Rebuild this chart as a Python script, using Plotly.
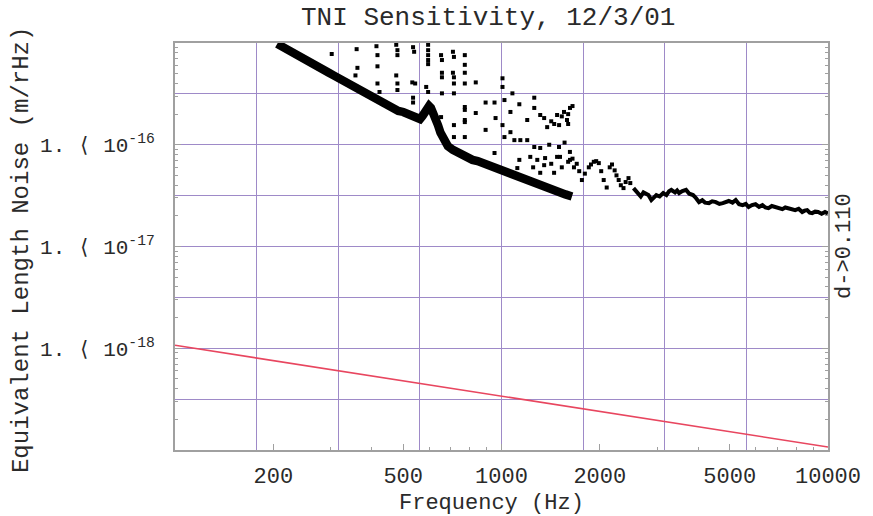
import plotly.graph_objects as go

# Main interferometer noise floor (dense band), Hz / m/rtHz
band_freq = [205.6, 215, 224, 232, 240, 248, 257, 266, 276, 286, 296, 306, 317, 328, 340,
             352, 365, 378, 391, 405, 420, 435, 450, 467, 483, 500, 518, 531, 544, 553,
             563, 573, 583, 592, 600, 608, 617, 628, 639, 650, 662, 673, 685, 710, 735,
             760, 788, 815, 845, 875, 907, 950, 993, 1035, 1080, 1125, 1175, 1230, 1287,
             1335, 1380, 1440, 1501, 1570, 1644]
band_noise = [9.8e-16, 9.1e-16, 8.5e-16, 8.0e-16, 7.6e-16, 7.0e-16, 6.65e-16, 6.2e-16,
              5.8e-16, 5.45e-16, 5.1e-16, 4.8e-16, 4.5e-16, 4.25e-16, 4.0e-16, 3.72e-16,
              3.5e-16, 3.28e-16, 3.1e-16, 2.9e-16, 2.75e-16, 2.55e-16, 2.4e-16, 2.3e-16,
              2.15e-16, 2.1e-16, 2.0e-16, 1.95e-16, 1.87e-16, 1.84e-16, 1.79e-16, 1.92e-16,
              2.1e-16, 2.3e-16, 2.4e-16, 2.3e-16, 2.1e-16, 1.8e-16, 1.56e-16, 1.32e-16,
              1.16e-16, 1.05e-16, 9.7e-17, 8.9e-17, 8.3e-17, 7.8e-17, 7.4e-17, 7.1e-17,
              6.9e-17, 6.6e-17, 6.3e-17, 5.9e-17, 5.6e-17, 5.3e-17, 5.0e-17, 4.75e-17,
              4.5e-17, 4.25e-17, 4.0e-17, 3.85e-17, 3.75e-17, 3.55e-17, 3.4e-17, 3.25e-17,
              3.1e-17]

# Second measurement: scattered points below ~2.5 kHz
scatter_freq = [302, 360, 362, 357, 414, 417, 417, 417, 423, 476, 480, 480, 476, 480, 480,
                536, 540, 533, 544, 536, 536, 596, 596, 596, 596, 596, 588, 596,
                653, 657, 657, 657, 657, 653, 710, 715, 710, 715, 715, 715, 715, 715,
                772, 772, 772, 772, 772, 772, 772, 772, 772,
                834, 834, 894, 894, 952, 959, 1007, 1007, 1021, 1007, 1080, 1065, 1134,
                1199, 1260, 1260, 1314, 1351, 1380, 1480, 1554, 1621, 1587, 1501,
                1530, 1600, 1650, 1420, 1450, 1600,
                1065, 1021, 1095, 1142, 1199, 1260, 1314, 1134, 1225, 1287, 1360, 1480,
                952, 1118, 1314, 1449, 1351, 1400, 1500, 1560, 1620, 1420, 1530, 1600,
                1650, 1250,
                1511, 1621, 1667, 1763, 1851, 1917, 1986, 2056, 2100, 2145, 2221, 2285,
                2364, 2449, 1700, 1730, 1800, 1880, 1950, 2020, 2180, 2250, 2320, 2400, 2480]
scatter_noise = [7.8e-16, 8.7e-16, 5.7e-16, 4.8e-16, 9.3e-16, 7.6e-16, 5.9e-16, 4.0e-16,
                 3.3e-16, 9.6e-16, 8.5e-16, 7.6e-16, 4.8e-16, 4.0e-16, 3.45e-16,
                 9.1e-16, 8.2e-16, 4.1e-16, 4.0e-16, 2.9e-16, 2.6e-16,
                 9.6e-16, 8.5e-16, 7.6e-16, 6.8e-16, 6.2e-16, 3.7e-16, 3.3e-16,
                 7.6e-16, 6.8e-16, 5.1e-16, 4.6e-16, 3.2e-16, 1.87e-16,
                 8.2e-16, 7.3e-16, 5.1e-16, 4.6e-16, 4.0e-16, 3.2e-16, 1.56e-16, 1.19e-16,
                 7.6e-16, 6.1e-16, 5.1e-16, 4.0e-16, 2.35e-16, 1.75e-16, 1.19e-16, 2.2e-16,
                 1.67e-16,
                 4.1e-16, 2.05e-16, 2.6e-16, 1.4e-16, 2.6e-16, 1.83e-16, 4.5e-16, 3.7e-16,
                 2.75e-16, 1.56e-16, 3.2e-16, 2.1e-16, 2.5e-16, 1.75e-16, 2.9e-16, 2.3e-16,
                 1.96e-16, 1.83e-16, 1.49e-16, 1.96e-16, 2.1e-16, 2.3e-16, 1.75e-16, 1.56e-16,
                 1.9e-16, 2.0e-16, 2.4e-16, 1.7e-16, 1.6e-16, 1.6e-16,
                 1.33e-16, 1.19e-16, 1.11e-16, 1.11e-16, 1.11e-16, 9.5e-17, 9.3e-17,
                 7.1e-17, 7.6e-17, 7.1e-17, 7.4e-17, 7.6e-17,
                 8.3e-17, 5.9e-17, 5.3e-17, 5.3e-17, 6.3e-17, 1.0e-16, 9.5e-17, 1.05e-16,
                 8.5e-17, 6.5e-17, 6.0e-17, 6.8e-17, 7.3e-17, 6.0e-17,
                 7.6e-17, 7.1e-17, 6.0e-17, 4.5e-17, 6.0e-17, 6.8e-17, 6.6e-17, 4.5e-17,
                 3.8e-17, 6.0e-17, 5.6e-17, 4.5e-17, 3.75e-17, 4.7e-17,
                 6.5e-17, 5.5e-17, 5.2e-17, 6.4e-17, 6.9e-17, 5.5e-17, 6.4e-17, 5.0e-17,
                 4.0e-17, 4.3e-17, 4.2e-17]

# Second measurement above ~2.5 kHz (continuous)
tail_freq = [2537, 2580, 2627, 2670, 2721, 2770, 2818, 2877, 2930, 2980, 3050, 3129, 3200,
             3260, 3311, 3400, 3450, 3500, 3580, 3675, 3760, 3861, 3940, 4027, 4120, 4200,
             4319, 4420, 4535, 4650, 4762, 4860, 4966, 5100, 5216, 5340, 5478, 5600, 5713,
             5850, 5999, 6150, 6300, 6430, 6570, 6730, 6902, 7070, 7248, 7400, 7558, 7750,
             7937, 8130, 8337, 8480, 8634, 8790, 8943, 9130, 9324, 9560, 9793, 10000]
tail_noise = [3.75e-17, 3.5e-17, 3.35e-17, 3.1e-17, 3.4e-17, 3.25e-17, 3.2e-17, 2.86e-17,
              3.05e-17, 3.2e-17, 3.1e-17, 3.35e-17, 3.2e-17, 3.5e-17, 3.6e-17, 3.4e-17,
              3.55e-17, 3.35e-17, 3.5e-17, 3.6e-17, 3.3e-17, 3.2e-17, 3.0e-17, 2.73e-17,
              2.85e-17, 2.7e-17, 2.67e-17, 2.78e-17, 2.73e-17, 2.62e-17, 2.67e-17, 2.75e-17,
              2.8e-17, 2.7e-17, 2.86e-17, 2.6e-17, 2.55e-17, 2.62e-17, 2.44e-17, 2.55e-17,
              2.6e-17, 2.45e-17, 2.55e-17, 2.42e-17, 2.38e-17, 2.5e-17, 2.44e-17, 2.35e-17,
              2.33e-17, 2.42e-17, 2.38e-17, 2.3e-17, 2.28e-17, 2.35e-17, 2.18e-17, 2.25e-17,
              2.28e-17, 2.15e-17, 2.13e-17, 2.2e-17, 2.18e-17, 2.1e-17, 2.18e-17, 2.12e-17]

# Design sensitivity line
design_freq = [100, 10000]
design_noise = [1.07e-18, 1.07e-19]

x_labels = [200, 500, 1000, 2000, 5000, 10000]
y_labels = [1e-18, 1e-17, 1e-16]
y_label_text = ["1. \u27e8 10<sup>-18</sup>", "1. \u27e8 10<sup>-17</sup>",
                "1. \u27e8 10<sup>-16</sup>"]

FONT = "Liberation Mono, Courier New, DejaVu Sans Mono, monospace"
GRID = "rgb(158,138,200)"
AXIS = "rgb(160,160,160)"
TEXT = "#2a2a2a"

# grid lines: quarter decades in frequency, half decades in noise
x_grid = [10 ** (2 + 0.25 * k) for k in range(1, 8)]
y_grid = [10 ** (-19 + 0.5 * k) for k in range(1, 8)]
# small log tick marks
x_minor = [m * 10 ** e for e in (2, 3) for m in range(2, 10)]
y_minor = [m * 10.0 ** e for e in (-19, -18, -17, -16) for m in range(2, 10)]

fig = go.Figure()
fig.add_trace(go.Scatter(x=design_freq, y=design_noise, mode="lines",
                         line=dict(color="rgb(232,70,95)", width=1.6)))
fig.add_trace(go.Scatter(x=band_freq, y=band_noise, mode="lines",
                         line=dict(color="black", width=8.5)))
fig.add_trace(go.Scatter(x=scatter_freq, y=scatter_noise, mode="markers",
                         marker=dict(color="black", size=4, symbol="square")))
fig.add_trace(go.Scatter(x=tail_freq, y=tail_noise, mode="lines",
                         line=dict(color="black", width=4)))
# carrier for the tick-mark axes
fig.add_trace(go.Scatter(x=[], y=[], xaxis="x2", yaxis="y2", hoverinfo="skip"))

fig.update_layout(
    xaxis=dict(type="log", range=[2, 4], tickvals=x_labels,
               ticktext=[str(v) for v in x_labels], showgrid=False, zeroline=False,
               ticks="inside", ticklen=6, tickcolor=AXIS, showline=True,
               linecolor=AXIS, linewidth=2, mirror=True,
               tickfont=dict(family=FONT, size=22, color=TEXT), ticklabelstandoff=5,
               minor=dict(tickvals=x_grid, ticks="", showgrid=True, gridcolor=GRID,
                          gridwidth=1)),
    yaxis=dict(type="log", range=[-19, -15], tickvals=y_labels, ticktext=y_label_text,
               showgrid=False, zeroline=False, ticks="inside", ticklen=6,
               tickcolor=AXIS, showline=True, linecolor=AXIS, linewidth=2,
               mirror="ticks", tickfont=dict(family=FONT, size=21, color=TEXT),
               ticklabelstandoff=14,
               minor=dict(tickvals=y_grid, ticks="", showgrid=True, gridcolor=GRID,
                          gridwidth=1)),
    xaxis2=dict(type="log", range=[2, 4], overlaying="x", anchor="y2", side="bottom",
                tickvals=x_minor, ticks="inside", ticklen=3, tickcolor=AXIS,
                showticklabels=False, showgrid=False, zeroline=False, showline=False),
    yaxis2=dict(type="log", range=[-19, -15], overlaying="y", anchor="x2", side="left",
                tickvals=y_minor, ticks="inside", ticklen=3, tickcolor=AXIS,
                showticklabels=False, showgrid=False, zeroline=False, showline=False,
                mirror="ticks"),
)

ann = dict(showarrow=False, xref="paper", yref="paper")
fig.add_annotation(text="TNI Sensitivity, 12/3/01", x=0.479, y=1.061, xanchor="center",
                   yanchor="middle", font=dict(family=FONT, size=26, color=TEXT), **ann)
fig.add_annotation(text="Equivalent Length Noise (m/rHz)", x=-0.236, y=0.491,
                   xanchor="center", yanchor="middle", textangle=-90,
                   font=dict(family=FONT, size=24, color=TEXT), **ann)
fig.add_annotation(text="Frequency (Hz)", x=0.485, y=-0.132, xanchor="center",
                   yanchor="middle", font=dict(family=FONT, size=22, color=TEXT), **ann)
fig.add_annotation(text="d->0.110", x=1.0243, y=0.501, xanchor="center", yanchor="middle",
                   textangle=-90, font=dict(family=FONT, size=22, color=TEXT), **ann)

fig.update_layout(width=873, height=516, margin=dict(l=175, r=40, t=43, b=66),
                  paper_bgcolor="white", plot_bgcolor="white", showlegend=False)

fig.write_html("out.html")
